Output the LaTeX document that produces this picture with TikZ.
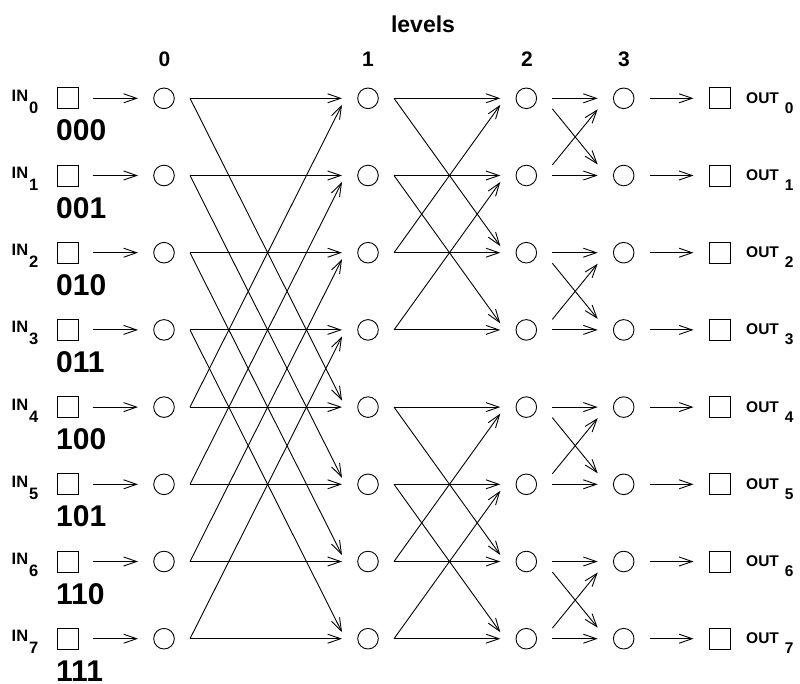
\documentclass[tikz,border=0pt]{standalone}
\usepackage{fontspec}
\setmainfont{Liberation Sans}
\usetikzlibrary{arrows.meta,calc}
\begin{document}
\begin{tikzpicture}[x=1pt,y=-1pt,
  conn/.style={line width=0.9pt,-{Straight Barb[length=13pt,width=9pt]}},
  lvl/.style={circle,draw,line width=0.9pt,minimum size=20.6pt,inner sep=0pt,outer sep=15.7pt},
  iobox/.style={rectangle,draw,line width=0.9pt,minimum size=21pt,inner sep=0pt,outer ysep=0pt},
  inlab/.style={font=\fontsize{16.5}{19}\selectfont\bfseries,inner sep=0pt,anchor=base west},
  outlab/.style={font=\fontsize{15.5}{18}\selectfont\bfseries,inner sep=0pt,anchor=base west},
  bin/.style={font=\fontsize{30}{33}\selectfont\bfseries,inner sep=0pt,anchor=base west},
  lev/.style={font=\fontsize{21}{24}\selectfont\bfseries,inner sep=0pt,anchor=base},
  title/.style={font=\fontsize{23}{26}\selectfont\bfseries,inner sep=0pt,anchor=base}]
\useasboundingbox (0,0) rectangle (800,683);
% title and level numbers
\node[title] (levels) at (423,32) {levels};
\node[lev] (l0) at (164.5,66.5) {0};
\node[lev] (l1) at (368,66.5) {1};
\node[lev] (l2) at (527,66.5) {2};
\node[lev] (l3) at (624,66.5) {3};
% nodes
\foreach \i/\b in {0/000,1/001,2/010,3/011,4/100,5/101,6/110,7/111}{
  \pgfmathsetmacro\y{98.3+77.2*\i}
  \node[iobox,outer xsep=14.7pt] (in\i) at (67.7,\y) {};
  \node[lvl] (a\i) at (164,\y) {};
  \node[lvl] (b\i) at (368,\y) {};
  \node[lvl] (c\i) at (526.3,\y) {};
  \node[lvl] (d\i) at (623.7,\y) {};
  \node[iobox,outer xsep=16pt] (out\i) at (720,\y) {};
  \node[inlab] (inl\i) at (11.5,\y+2.9) {IN\kern1pt\raisebox{-12pt}{\i}};
  \node[outlab] (outl\i) at (746,\y+5) {OUT\kern6pt\raisebox{-10pt}{\i}};
  \node[bin] (bin\i) at (56,\y+42.5) {\b};
}
% straight connectors
\foreach \i in {0,...,7}{
  \draw[conn] (in\i.east) -- (a\i.west);
  \draw[conn] (a\i.east) -- (b\i.west);
  \draw[conn] (b\i.east) -- (c\i.west);
  \draw[conn] (c\i.east) -- (d\i.west);
  \draw[conn] (d\i.east) -- (out\i.west);
}
% level 0 -> 1 crossings
\foreach \i/\j/\s in {0/4/-6.5,1/5/-6.5,2/6/-6.5,3/7/-6.5,4/0/6.5,5/1/6.5,6/2/6.5,7/3/6.5}{
  \draw[conn] (a\i.east) -- ($(b\j.west)+(0,\s)$);
}
% level 1 -> 2 crossings
\foreach \i/\j/\s in {0/2/-6.5,1/3/-6.5,2/0/6.5,3/1/6.5,4/6/-6.5,5/7/-6.5,6/4/6.5,7/5/6.5}{
  \draw[conn] (b\i.east) -- ($(c\j.west)+(0,\s)$);
}
% level 2 -> 3 crossings
\foreach \i/\j/\t/\s in {0/1/10.5/-11,1/0/-10.5/11,2/3/10.5/-11,3/2/-10.5/11,4/5/10.5/-11,5/4/-10.5/11,6/7/10.5/-11,7/6/-10.5/11}{
  \draw[conn] ($(c\i.east)+(0,\t)$) -- ($(d\j.west)+(0,\s)$);
}
\end{tikzpicture}
\end{document}
